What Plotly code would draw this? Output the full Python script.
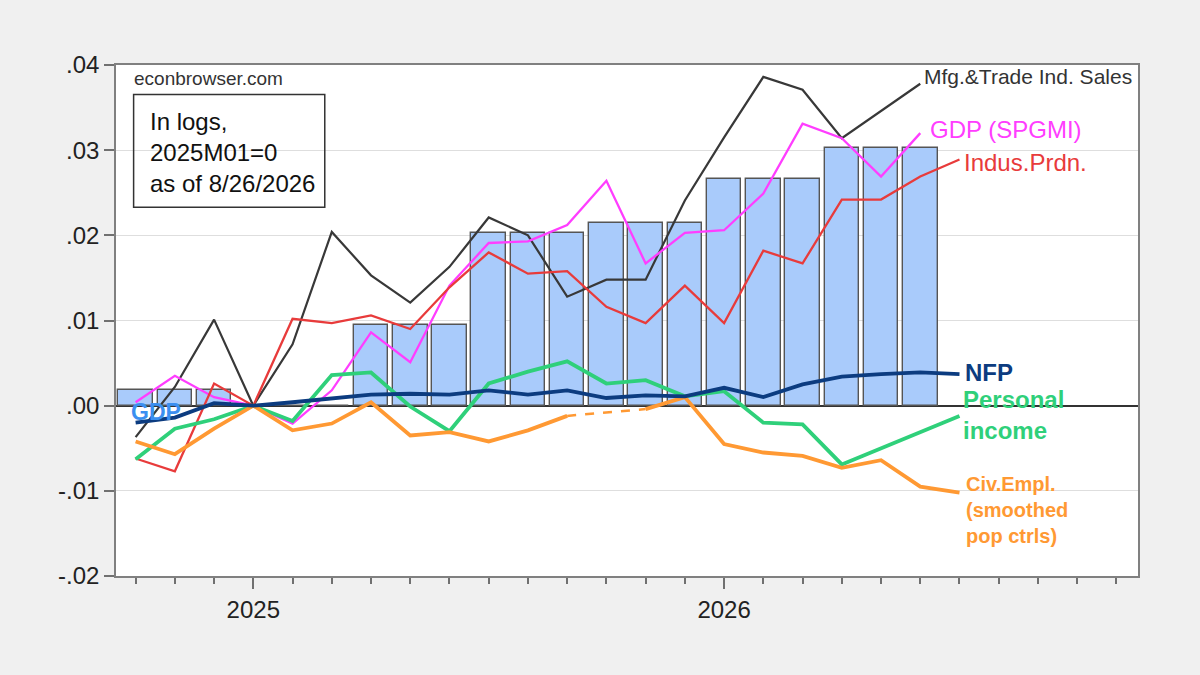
import plotly.graph_objects as go

# ---------------- data (log levels, 2025M01 = 0) ----------------
months = ["2024M10", "2024M11", "2024M12",
          "2025M01", "2025M02", "2025M03", "2025M04", "2025M05", "2025M06",
          "2025M07", "2025M08", "2025M09", "2025M10", "2025M11", "2025M12",
          "2026M01", "2026M02", "2026M03", "2026M04", "2026M05", "2026M06",
          "2026M07"]

gdp_bars = [0.0018, 0.0018, 0.0018,
            0.0, 0.0, 0.0,
            0.0095, 0.0095, 0.0095,
            0.0203, 0.0203, 0.0203,
            0.0215, 0.0215, 0.0215,
            0.0266, 0.0266, 0.0266,
            0.0303, 0.0303, 0.0303,
            None]

mfg_sales = [-0.0037, 0.0022, 0.0101,
             0.0, 0.0072, 0.0204, 0.0153, 0.0121, 0.0163,
             0.0221, 0.0200, 0.0128, 0.0148, 0.0148, 0.0241,
             0.0315, 0.0386, 0.0371, 0.0314, 0.0346, 0.0378,
             None]

gdp_spgmi = [0.0004, 0.0035, 0.0010,
             0.0, -0.0021, 0.0018, 0.0086, 0.0051, 0.0141,
             0.0191, 0.0193, 0.0212, 0.0264, 0.0167, 0.0203,
             0.0206, 0.0249, 0.0331, 0.0314, 0.0269, 0.0320,
             None]

indus_prdn = [-0.0062, -0.0077, 0.0026,
              0.0, 0.0102, 0.0097, 0.0106, 0.0090, 0.0139,
              0.0180, 0.0155, 0.0158, 0.0116, 0.0097, 0.0141,
              0.0097, 0.0182, 0.0167, 0.0242, 0.0242, 0.0269,
              0.0289]

pers_income = [-0.0063, -0.0027, -0.0016,
               0.0, -0.0018, 0.0036, 0.0039, -0.0001, -0.0030,
               0.0026, 0.0040, 0.0052, 0.0026, 0.0030, 0.0011,
               0.0017, -0.0020, -0.0022, -0.0069, -0.0050, -0.0031,
               -0.0012]

civ_empl = [-0.0042, -0.0057, -0.0027,
            0.0, -0.0029, -0.0021, 0.0004, -0.0035, -0.0031,
            -0.0042, -0.0029, -0.0012, None, -0.0004, 0.0010,
            -0.0045, -0.0055, -0.0059, -0.0073, -0.0064, -0.0095,
            -0.0102]

nfp = [-0.0020, -0.0014, 0.0003,
       0.0, 0.0004, 0.0008, 0.0013, 0.0014, 0.0013,
       0.0018, 0.0013, 0.0018, 0.0009, 0.0012, 0.0011,
       0.0021, 0.0010, 0.0025, 0.0034, 0.0037, 0.0039,
       0.0037]

y_tickvals = [-0.02, -0.01, 0.0, 0.01, 0.02, 0.03, 0.04]
y_ticktext = ["-.02", "-.01", ".00", ".01", ".02", ".03", ".04"]
x_tick_months = ["2025M01", "2026M01"]
x_ticktext = ["2025", "2026"]

# x positions: position of each month on the monthly axis
x = list(range(len(months)))
x_tickvals = [months.index(m) for m in x_tick_months]

# gap in civilian employment bridged with a dashed segment
gap = civ_empl.index(None)
bridge_x = [x[gap - 1], x[gap + 1]]
bridge_y = [civ_empl[gap - 1], civ_empl[gap + 1]]

FONT = "Liberation Sans, Arial, sans-serif"
C_BLACK = "#383838"
C_MAG = "#ff3dff"
C_RED = "#e83b3b"
C_GREEN = "#2fd07a"
C_ORANGE = "#ff9933"
C_NAVY = "#0c3c80"
C_GDP = "#3b8ff0"

fig = go.Figure()

fig.add_trace(go.Bar(x=x, y=gdp_bars, width=0.88,
                     marker=dict(color="#a9cbfb", line=dict(color="#555555", width=1.4)),
                     showlegend=False))
fig.add_trace(go.Scatter(x=x, y=mfg_sales, mode="lines",
                         line=dict(color=C_BLACK, width=2.2), showlegend=False))
fig.add_trace(go.Scatter(x=x, y=gdp_spgmi, mode="lines",
                         line=dict(color=C_MAG, width=2.3), showlegend=False))
fig.add_trace(go.Scatter(x=x, y=indus_prdn, mode="lines",
                         line=dict(color=C_RED, width=2.3), showlegend=False))
fig.add_trace(go.Scatter(x=x, y=pers_income, mode="lines",
                         line=dict(color=C_GREEN, width=3.8), showlegend=False))
fig.add_trace(go.Scatter(x=x, y=civ_empl, mode="lines",
                         line=dict(color=C_ORANGE, width=3.8), showlegend=False))
fig.add_trace(go.Scatter(x=bridge_x, y=bridge_y, mode="lines",
                         line=dict(color=C_ORANGE, width=2.5, dash="dash"), showlegend=False))
fig.add_trace(go.Scatter(x=x, y=nfp, mode="lines",
                         line=dict(color=C_NAVY, width=3.8), showlegend=False))

# converts pixel positions of the original layout into axis coordinates for labels
X0_PX, DX_PX = 136.0, 39.2   # first month centre, pixels per month
Y0_PX, DY_PX = 405.0, 8500.0  # zero line, pixels per unit


def ax(px):
    return (px - X0_PX) / DX_PX


def ay(py):
    return (Y0_PX - py) / DY_PX


def label(text, px, py, color, size, bold=False, align="left"):
    fig.add_annotation(x=ax(px), y=ay(py), xref="x", yref="y",
                       text=f"<b>{text}</b>" if bold else text,
                       showarrow=False, xanchor="left", yanchor="middle", align=align,
                       font=dict(family=FONT, size=size, color=color))


label("econbrowser.com", 132, 78, "#333333", 19)
label("In logs,<br>2025M01=0<br>as of 8/26/2026", 148, 152, "#111111", 24)
label("Mfg.&Trade Ind. Sales", 922, 76, "#333333", 21)
label("GDP (SPGMI)", 928, 129, C_MAG, 24)
label("Indus.Prdn.", 962, 162, C_RED, 24)
label("NFP", 963, 372, C_NAVY, 24, bold=True)
label("Personal<br>income", 961, 414, C_GREEN, 24, bold=True)
label("Civ.Empl.<br>(smoothed<br>pop ctrls)", 964, 509, C_ORANGE, 20, bold=True)
label("GDP", 129, 411, C_GDP, 23, bold=True)

fig.add_shape(type="rect", xref="x", yref="y",
              x0=ax(134), x1=ax(325), y0=ay(207), y1=ay(94.5),
              line=dict(color="#333333", width=1.5), fillcolor="rgba(0,0,0,0)")

fig.update_layout(
    width=1200, height=675,
    margin=dict(l=116, r=62, t=65, b=99),
    paper_bgcolor="#f0f0f0", plot_bgcolor="white",
    font=dict(family=FONT, size=24, color="#222222"),
    bargap=0,
)
fig.update_xaxes(
    range=[-0.5, 25.55],
    tickmode="array", tickvals=x_tickvals, ticktext=x_ticktext,
    ticks="outside", ticklen=11, tickwidth=1.5, tickcolor="#707070",
    minor=dict(tickmode="linear", tick0=0, dtick=1, ticks="outside",
               ticklen=6, tickwidth=1.5, tickcolor="#707070", showgrid=False),
    showgrid=False, zeroline=False,
    showline=True, mirror=True, linecolor="#808080", linewidth=1.5,
    tickfont=dict(size=24, color="#222222"),
)
fig.update_yaxes(
    range=[-0.02, 0.04],
    tickmode="array", tickvals=y_tickvals, ticktext=y_ticktext,
    ticks="outside", ticklen=10, tickwidth=1.5, tickcolor="#707070",
    showgrid=True, gridcolor="#dedede", gridwidth=1,
    zeroline=True, zerolinecolor="#333333", zerolinewidth=1.5,
    showline=True, mirror=True, linecolor="#808080", linewidth=1.5,
    tickfont=dict(size=24, color="#222222"),
)

fig.write_html(
    "out.html",
    config={"displayModeBar": False},
    post_script="document.body.style.margin='0';document.body.style.background='#f0f0f0';",
)
